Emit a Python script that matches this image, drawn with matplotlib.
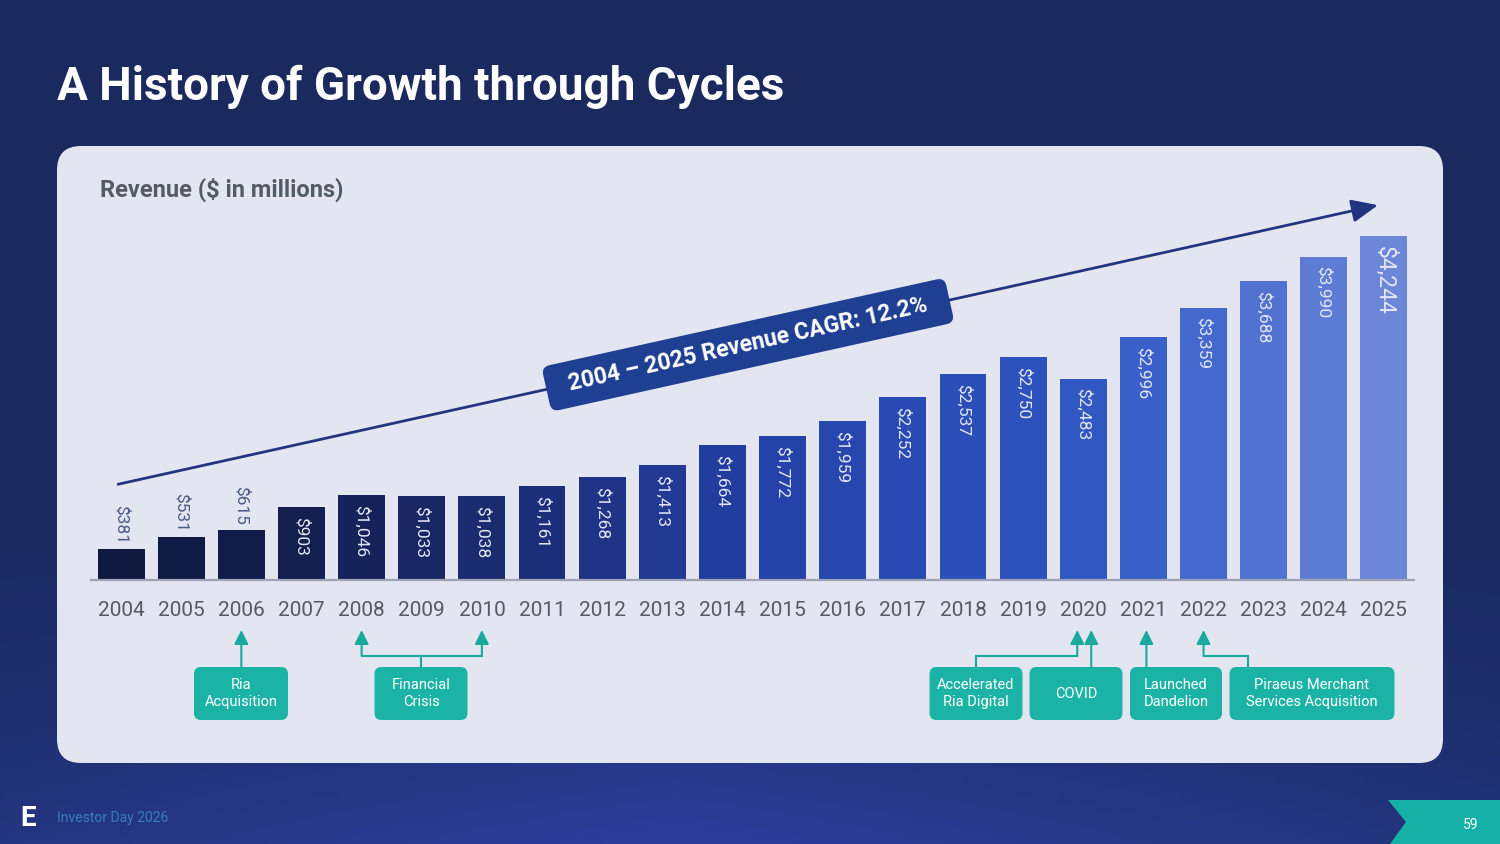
import numpy as np
import matplotlib
matplotlib.use('Agg')
import matplotlib.pyplot as plt
from matplotlib import transforms
from matplotlib.patches import FancyBboxPatch, Polygon
from matplotlib.colors import LinearSegmentedColormap

# dados do grafico
anos = [str(a) for a in range(2004, 2026)]
receita = [381, 531, 615, 903, 1046, 1033, 1038, 1161, 1268, 1413, 1664,
           1772, 1959, 2252, 2537, 2750, 2483, 2996, 3359, 3688, 3990, 4244]
rotulos = ['$' + format(v, ',') for v in receita]
titulo = 'A History of Growth through Cycles'
subtitulo = 'Revenue ($ in millions)'
texto_cagr = '2004 \u2013 2025 Revenue CAGR: 12.2%'

# eventos: texto da caixa e anos para onde as setas apontam
eventos = ['Ria\nAcquisition', 'Financial\nCrisis', 'Accelerated\nRia Digital',
           'COVID', 'Launched\nDandelion', 'Piraeus Merchant\nServices Acquisition']
alvos = [['2006'], ['2008', '2010'], ['2020'], ['2020'], ['2021'], ['2022']]

# layout das caixas (pixels): centro x, largura, x da haste, deslocamento da seta
caixa_x = [241, 421, 976, 1076, 1176, 1312]
caixa_w = [94, 93, 93, 93, 92, 165]
haste_x = [None, 421, 976, None, None, 1248]
desloc = [0, 0, -6, 8, 3, 0]

W, H = 1500, 844
FONTE = ['Roboto', 'DejaVu Sans']
plt.rcParams['font.family'] = FONTE

fig = plt.figure(figsize=(W / 100, H / 100), dpi=100)

# fundo e painel em coordenadas de pixel
bg = fig.add_axes([0, 0, 1, 1], zorder=0)
bg.set_xlim(0, W)
bg.set_ylim(H, 0)
bg.axis('off')

yy = np.linspace(0, 1, 200)[:, None]
xx = np.linspace(0, 1, 300)[None, :]
topo = np.array([0x1a, 0x29, 0x5e]) / 255
baixo = np.array([0x2c, 0x3f, 0x9c]) / 255
t = np.clip((yy - 0.55) / 0.45, 0, 1) ** 1.5 * (1 - 0.5 * np.abs(xx - 0.45) * 2)
img = topo[None, None, :] * (1 - t[..., None]) + baixo[None, None, :] * t[..., None]
bg.imshow(img, extent=(0, W, H, 0), aspect='auto', zorder=0)

painel = FancyBboxPatch((57, 146), 1386, 617, boxstyle='round,pad=0,rounding_size=24',
                        fc='#e3e6f1', ec='none', zorder=1)
bg.add_patch(painel)

bg.text(57, 87, titulo, color='white', fontsize=33, fontweight='bold', va='center', zorder=2)
bg.text(100, 190, subtitulo, color='#555b66', fontsize=17, fontweight='bold', va='center', zorder=2)

# rodape
bg.text(57, 818, 'Investor Day 2026', color='#3f8fc4', fontsize=10, va='center', alpha=0.8, zorder=2)
bg.text(28, 818, 'E', color='white', fontsize=20, fontweight='bold', va='center', ha='center', zorder=2)
bg.add_patch(Polygon([(1388, 800), (W, 800), (W, H), (1390, H), (1406, 822)],
                     closed=True, fc='#16b1a6', ec='none', zorder=2))
bg.text(1471, 825, '59', color='white', fontsize=10, va='center', ha='center', zorder=3)

# grafico de barras
ax = fig.add_axes([91 / W, 1 - 580 / H, (1414 - 91) / W, (580 - 160) / H], zorder=2)
ax.patch.set_alpha(0)
x = np.arange(len(anos))
cmap = LinearSegmentedColormap.from_list('receita', [
    (0, '#0f1940'), (0.14, '#131f4f'), (0.3, '#1b2c72'), (0.5, '#2440a6'),
    (0.76, '#3056c2'), (0.86, '#4468ce'), (1, '#6c86d8')])
cores = [cmap(i / (len(anos) - 1)) for i in x]
ax.bar(x, receita, width=0.78, color=cores)
ax.set_xlim(-0.5, len(anos) - 0.5)
ax.set_ylim(0, 5181)
ax.set_xticks(x, anos)
ax.tick_params(axis='x', length=0, pad=15, labelsize=15, labelcolor='#555a66')
ax.set_yticks([])
for lado in ['top', 'left', 'right']:
    ax.spines[lado].set_visible(False)
ax.spines['bottom'].set_color('#9da3b4')
ax.spines['bottom'].set_linewidth(1.6)

for i, (v, lbl) in enumerate(zip(receita, rotulos)):
    if v < 700:
        ax.annotate(lbl, (i, v), xytext=(0, 4), textcoords='offset points', rotation=270,
                    ha='center', va='bottom', fontsize=12.5, color='#4d5b85')
    else:
        tam = 16.5 if i == len(receita) - 1 else 12.5
        ax.annotate(lbl, (i, v), xytext=(0, -7), textcoords='offset points', rotation=270,
                    ha='center', va='top', fontsize=tam, color='#e3e7f3')

# seta de tendencia e rotulo do CAGR
ini = (-0.05, receita[0] + 800)
fim = (len(anos) - 1.1, receita[-1] + 380)
ax.annotate('', xy=fim, xytext=ini, annotation_clip=False,
            arrowprops=dict(arrowstyle='-|>,head_length=0.8,head_width=0.35', color='#22367f',
                            lw=2, mutation_scale=20, shrinkA=0, shrinkB=0))
p0 = ax.transData.transform(ini)
p1 = ax.transData.transform(fim)
ang = np.degrees(np.arctan2(p1[1] - p0[1], p1[0] - p0[0]))
meio = ((ini[0] + fim[0]) / 2, (ini[1] + fim[1]) / 2)
ax.text(meio[0], meio[1], '  ' + texto_cagr + '  ', rotation=ang, rotation_mode='anchor',
        ha='center', va='center', color='white', fontsize=16.5, fontweight='bold', zorder=5,
        bbox=dict(boxstyle='round,pad=0.5,rounding_size=0.35', fc='#1f3f93', ec='none'))


def ano_px(ano):
    # posicao do ano em pixels do fundo, via escala do eixo principal
    d = ax.transData.transform((anos.index(ano), 0))
    return bg.transData.inverted().transform(d)[0]


teal = '#1aa99d'
y_caixa, h_caixa, y_ponta, y_linha = 667, 53, 630, 656
for txt, ds, cx, cw, hx, dx in zip(eventos, alvos, caixa_x, caixa_w, haste_x, desloc):
    bg.add_patch(FancyBboxPatch((cx - cw / 2, y_caixa), cw, h_caixa,
                                boxstyle='round,pad=0,rounding_size=7',
                                fc='#1cb3a7', ec='none', zorder=3))
    bg.text(cx, y_caixa + h_caixa / 2, txt, color='white', fontsize=10.5, ha='center',
            va='center', linespacing=1.25, zorder=4)
    xs = [ano_px(a) + dx for a in ds]
    if hx is None:
        topo_seta = [(xs[0], y_caixa)]
    else:
        bg.plot([hx, hx], [y_caixa, y_linha], color=teal, lw=1.5, zorder=3)
        bg.plot([min(xs + [hx]), max(xs + [hx])], [y_linha, y_linha], color=teal, lw=1.5, zorder=3)
        topo_seta = [(xa, y_linha) for xa in xs]
    for xa, ya in topo_seta:
        bg.annotate('', xy=(xa, y_ponta), xytext=(xa, ya),
                    arrowprops=dict(arrowstyle='-|>,head_length=0.7,head_width=0.35', color=teal,
                                    lw=1.5, mutation_scale=12, shrinkA=0, shrinkB=0), zorder=3)

fig.savefig('out.png', dpi=100)
